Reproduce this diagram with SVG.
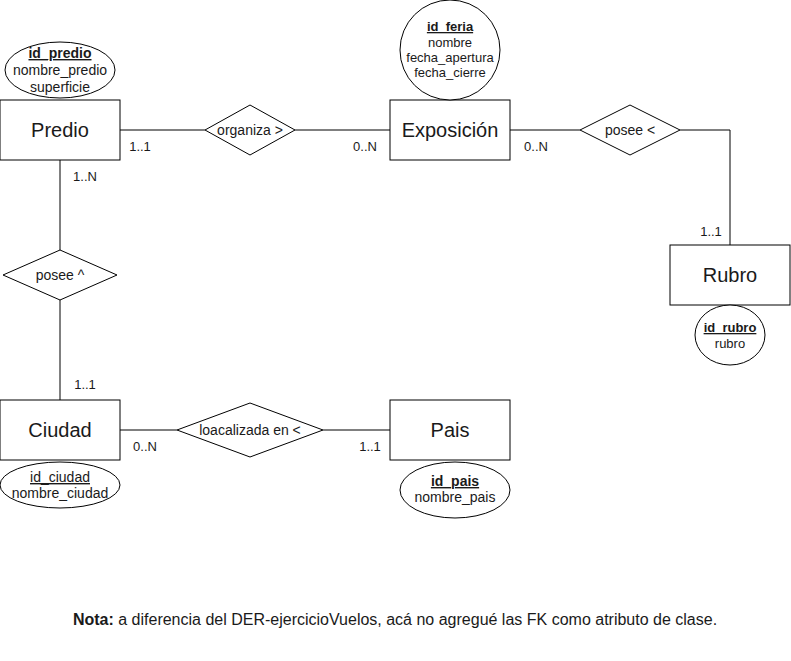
<svg xmlns="http://www.w3.org/2000/svg" width="791" height="661" viewBox="0 0 791 661">
<style>
.shape{fill:#fff;stroke:#000;stroke-width:1}
.edge{fill:none;stroke:#000;stroke-width:1}
text{font-family:"Liberation Sans",Arial,sans-serif;fill:#1a1a1a;text-anchor:middle}
.ent{font-size:20px}
.attr{font-size:14px}
.pk{font-size:14px;font-weight:bold;text-decoration:underline}
.pku{font-size:14px;text-decoration:underline}
.sm{font-size:13px}
.pks{font-size:13px;font-weight:bold;text-decoration:underline}
.card{font-size:13px}
.rel{font-size:14px}
</style>
<rect width="791" height="661" fill="#fff"/>
<g id="connectors">
<path class="edge" d="M120,130 H205"/>
<path class="edge" d="M295,130 H390"/>
<path class="edge" d="M510,130 H580"/>
<path class="edge" d="M680,130 H730 V245"/>
<path class="edge" d="M60,160 V250"/>
<path class="edge" d="M60,300 V400"/>
<path class="edge" d="M120,430 H177"/>
<path class="edge" d="M323,430 H390"/>
<text class="card" x="140" y="151">1..1</text>
<text class="card" x="365" y="151">0..N</text>
<text class="card" x="536" y="151">0..N</text>
<text class="card" x="711" y="236">1..1</text>
<text class="card" x="85" y="181">1..N</text>
<text class="card" x="85" y="389">1..1</text>
<text class="card" x="145" y="451">0..N</text>
<text class="card" x="370" y="451">1..1</text>
</g>
<g id="predio">
<rect class="shape" x="0" y="100" width="120" height="60"/>
<text class="ent" x="60" y="137">Predio</text>
</g>
<g id="predio_attrs">
<ellipse class="shape" cx="60" cy="70" rx="55" ry="28"/>
<text class="pk" x="60" y="58">id_predio</text>
<text class="attr" x="60" y="75">nombre_predio</text>
<text class="attr" x="60" y="92">superficie</text>
</g>
<g id="exposicion">
<rect class="shape" x="390" y="100" width="120" height="60"/>
<text class="ent" x="450" y="137">Exposición</text>
</g>
<g id="feria_attrs">
<ellipse class="shape" cx="450" cy="50" rx="50" ry="50"/>
<text class="pks" x="450" y="31">id_feria</text>
<text class="sm" x="450" y="47">nombre</text>
<text class="sm" x="450" y="62">fecha_apertura</text>
<text class="sm" x="450" y="77">fecha_cierre</text>
</g>
<g id="rubro">
<rect class="shape" x="670" y="245" width="120" height="60"/>
<text class="ent" x="730" y="282">Rubro</text>
</g>
<g id="rubro_attrs">
<ellipse class="shape" cx="730" cy="335" rx="35" ry="30"/>
<text class="pks" x="730" y="332">id_rubro</text>
<text class="sm" x="730" y="348">rubro</text>
</g>
<g id="ciudad">
<rect class="shape" x="0" y="400" width="120" height="60"/>
<text class="ent" x="60" y="437">Ciudad</text>
</g>
<g id="ciudad_attrs">
<ellipse class="shape" cx="60" cy="485" rx="60" ry="23"/>
<text class="pku" x="60" y="482">id_ciudad</text>
<text class="attr" x="60" y="498">nombre_ciudad</text>
</g>
<g id="pais">
<rect class="shape" x="390" y="400" width="120" height="60"/>
<text class="ent" x="450" y="437">Pais</text>
</g>
<g id="pais_attrs">
<ellipse class="shape" cx="455" cy="490" rx="55" ry="28"/>
<text class="pk" x="455" y="486">id_pais</text>
<text class="attr" x="455" y="502">nombre_pais</text>
</g>
<g id="organiza">
<polygon class="shape" points="205,130 250,105 295,130 250,155"/>
<text class="rel" x="250" y="135">organiza &gt;</text>
</g>
<g id="posee_rubro">
<polygon class="shape" points="580,130 630,105 680,130 630,155"/>
<text class="rel" x="630" y="135">posee &lt;</text>
</g>
<g id="posee_ciudad">
<polygon class="shape" points="3,275 60,250 117,275 60,300"/>
<text class="rel" x="60" y="280">posee ^</text>
</g>
<g id="localizada">
<polygon class="shape" points="177,430 250,403 323,430 250,457"/>
<text class="rel" x="250" y="435">loacalizada en &lt;</text>
</g>
<g id="nota">
<text x="395" y="625" style="font-size:16px"><tspan font-weight="bold">Nota:</tspan> a diferencia del DER-ejercicioVuelos, acá no agregué las FK como atributo de clase.</text>
</g>
</svg>
